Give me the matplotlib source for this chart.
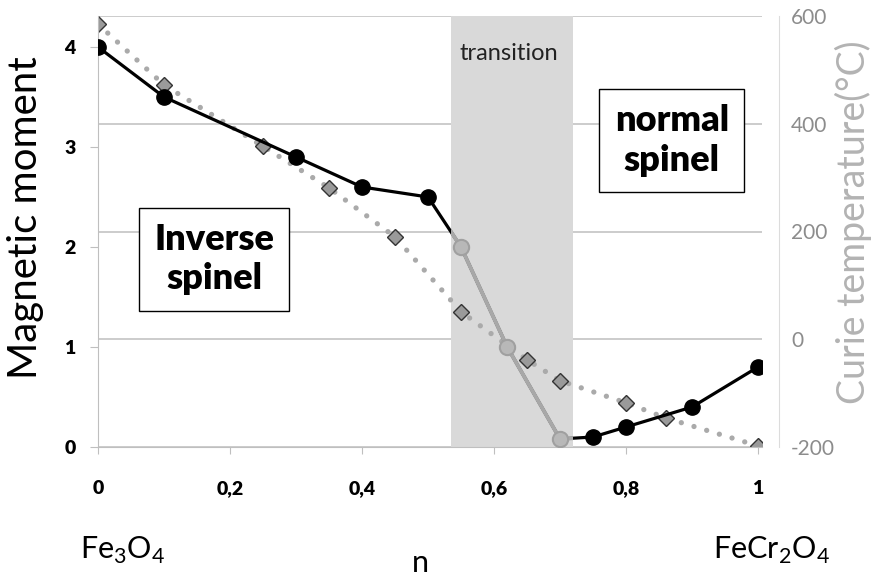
import matplotlib.pyplot as plt
from matplotlib.patches import Rectangle

plt.rcParams['font.family'] = ['Lato', 'DejaVu Sans']
plt.rcParams['axes.unicode_minus'] = False

# composition n and magnetic moment (left axis)
n_moment = [0, 0.1, 0.3, 0.4, 0.5, 0.55, 0.62, 0.7, 0.75, 0.8, 0.9, 1.0]
moment = [4.0, 3.5, 2.9, 2.6, 2.5, 2.0, 1.0, 0.08, 0.1, 0.2, 0.4, 0.8]

# composition n and Curie temperature in C (right axis)
n_curie = [0, 0.1, 0.25, 0.35, 0.45, 0.55, 0.65, 0.7, 0.8, 0.86, 1.0]
curie = [585, 472, 358, 281, 190, 51, -38, -77, -118, -146, -198]

transition = (0.535, 0.72)
x_ticks = [0, 0.2, 0.4, 0.6, 0.8, 1.0]
x_labels = ['0', '0,2', '0,4', '0,6', '0,8', '1']
moment_ticks = [0, 1, 2, 3, 4]
curie_ticks = [-200, 0, 200, 400, 600]

fig = plt.figure(figsize=(8.76, 5.79), dpi=100)
ax = fig.add_axes([98 / 876, 1 - 447 / 579, 664 / 876, 431 / 579])
ax2 = ax.twinx()
ax.set_zorder(ax2.get_zorder() + 1)
ax.patch.set_visible(False)

# right axis: grid, shaded transition, Curie temperature
ax2.set_ylim(-200, 600)
ax2.set_yticks(curie_ticks)
ax2.set_axisbelow(True)
ax2.yaxis.grid(True, color='#c8c8c8', lw=1.3)
ax2.axvspan(*transition, color='#d9d9d9', lw=0, zorder=1)
ax2.plot(n_curie, curie, color='#aaaaaa', lw=3.8, ls=(0, (0.01, 2.5)),
         dash_capstyle='round', zorder=2)
ax2.plot(n_curie, curie, ls='none', marker='D', ms=8.5, mfc='#9a9a9a',
         mec='#333333', mew=1, zorder=3)
for side in ['top', 'left', 'bottom']:
    ax2.spines[side].set_visible(False)
ax2.spines['right'].set_position(('outward', 12))
ax2.spines['right'].set_color('#dcdcdc')
ax2.tick_params(axis='y', length=0, pad=9, labelsize=15, labelcolor='#8c8c8c')

# left axis: magnetic moment
ax.set_xlim(0, 1.006)
ax.set_ylim(0, 4.31)
ax.plot(n_moment, moment, color='black', lw=2.3, zorder=3)
gray_line = ax.plot(n_moment, moment, color='#a8a8a8', lw=2.8, zorder=4)[0]
clip = Rectangle((transition[0], 0), transition[1] - transition[0], 1,
                 transform=ax.get_xaxis_transform())
gray_line.set_clip_path(clip)

inside = [transition[0] <= x <= transition[1] for x in n_moment]
ax.plot([x for x, i in zip(n_moment, inside) if not i],
        [y for y, i in zip(moment, inside) if not i],
        ls='none', marker='o', ms=11, color='black', zorder=5)
ax.plot([x for x, i in zip(n_moment, inside) if i],
        [y for y, i in zip(moment, inside) if i],
        ls='none', marker='o', ms=11, mfc='#b8b8b8', mec='#a0a0a0', mew=1.5, zorder=5)

ax.set_xticks(x_ticks, x_labels, fontweight='heavy')
ax.set_yticks(moment_ticks, [str(v) for v in moment_ticks], fontweight='heavy')
ax.tick_params(axis='x', length=5, color='#bfbfbf', pad=19, labelsize=14)
ax.tick_params(axis='y', length=6, color='#bfbfbf', pad=10, labelsize=14)
for side in ['top', 'right']:
    ax.spines[side].set_visible(False)
ax.spines['left'].set_color('#bfbfbf')
ax.spines['bottom'].set_color('#bfbfbf')

ax.text(0.545, 0.912, 'transition', transform=ax.transAxes, ha='left',
        va='center', fontsize=17, color='#222222')
box = dict(boxstyle='square,pad=0.42', fc='white', ec='black', lw=1)
ax.text(0.175, 0.436, 'Inverse\nspinel', transform=ax.transAxes, ha='center',
        va='center', fontsize=26, fontweight='heavy', linespacing=1.25, bbox=box, zorder=6)
ax.text(0.864, 0.712, 'normal\nspinel', transform=ax.transAxes, ha='center',
        va='center', fontsize=26, fontweight='heavy', linespacing=1.25, bbox=box, zorder=6)

fig.text(26 / 876, 1 - 218 / 579, 'Magnetic moment', rotation=90,
         ha='center', va='center', fontsize=29)
fig.text(853 / 876, 1 - 222 / 579, 'Curie temperature(\u00b0C)', rotation=90,
         ha='center', va='center', fontsize=27, color='#b3b3b3')
fig.text(80 / 876, 1 - 550 / 579, r'Fe$_\mathregular{3}$O$_\mathregular{4}$',
         ha='left', va='center', fontsize=22)
fig.text(830 / 876, 1 - 550 / 579, r'FeCr$_\mathregular{2}$O$_\mathregular{4}$',
         ha='right', va='center', fontsize=22)
fig.text(420 / 876, 1 - 563 / 579, 'n', ha='center', va='center', fontsize=22)

fig.savefig('out.png', dpi=100)
